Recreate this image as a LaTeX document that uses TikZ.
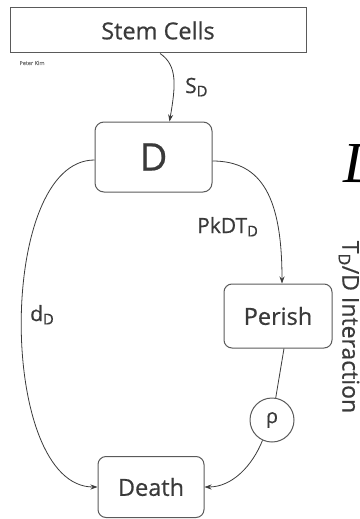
\documentclass[tikz,border=0pt]{standalone}
\usepackage{fontspec}
\setmainfont{Open Sans}[UprightFeatures={FakeBold=0.6}]
\newfontfamily\serifit{Liberation Serif}
\usetikzlibrary{arrows.meta}
\definecolor{boxline}{HTML}{5A5A5A}
\definecolor{ink}{HTML}{3A3A3A}
\begin{document}
\begin{tikzpicture}[x=1pt,y=-1pt,
  box/.style={draw=boxline,line width=1pt,text=ink,inner sep=0pt,font=\fontsize{23.5}{23.5}\selectfont},
  rbox/.style={box,rounded corners=9pt},
  flow/.style={draw=ink,line width=0.8pt,-{Stealth[length=7pt,width=5pt]}},
  lbl/.style={text=ink,inner sep=0pt,font=\fontsize{21}{21}\selectfont}]
\useasboundingbox (0,0) rectangle (359,519);
\begin{scope}
\clip (0,0) rectangle (359,519);
% large italic letter running off the edge
\node[anchor=base west,inner sep=0pt,text=black,font=\serifit\itshape\fontsize{58}{58}\selectfont] (big) at (343,182) {D};
\end{scope}
% compartments
\node[box,minimum width=296pt,minimum height=45pt] (stem) at (158,30.5) {Stem Cells};
\node[text=ink!70,inner sep=0pt,font=\fontsize{5.5}{6}\selectfont] (author) at (32,63) {Peter Kim};
\node[rbox,minimum width=117pt,minimum height=70pt,font=\fontsize{38}{38}\selectfont] (D) at (153.5,157) {D};
\node[rbox,minimum width=108pt,minimum height=64pt,rounded corners=8pt] (perish) at (278,316) {Perish};
\node[rbox,minimum width=106pt,minimum height=61pt,rounded corners=8pt] (death) at (151,487) {Death};
\node[draw=boxline,line width=1pt,circle,minimum size=44pt,inner sep=0pt,text=ink,font=\fontsize{20}{20}\selectfont] (rho) at (272,420) {ρ};
% transfers
\draw[flow] ([xshift=2pt]stem.south) .. controls +(18,12) and +(6,-35) .. ([xshift=16pt]D.north);
\draw[flow] ([yshift=-3pt]D.west) .. controls +(-98,0) and +(-100,0) .. (death.west);
\draw[flow] ([yshift=-4pt]D.east) .. controls +(50,0) and +(0,-85) .. ([xshift=4pt]perish.north);
\draw[draw=ink,line width=0.8pt] ([xshift=6pt]perish.south) -- (rho);
\draw[flow] (rho.-115) .. controls +(-10,25) and +(28,0) .. (death.east);
% rates
\node[lbl,anchor=base west] (sd) at (185,93) {S\textsubscript{D}};
\node[lbl,anchor=base west] (dd) at (30,321) {d\textsubscript{D}};
\node[lbl,anchor=base west] (pk) at (197,233) {PkDT\textsubscript{D}};
\node[lbl,rotate=-90,font=\fontsize{23}{23}\selectfont] (inter) at (349,327) {T\textsubscript{D}/D Interaction};
\end{tikzpicture}
\end{document}
